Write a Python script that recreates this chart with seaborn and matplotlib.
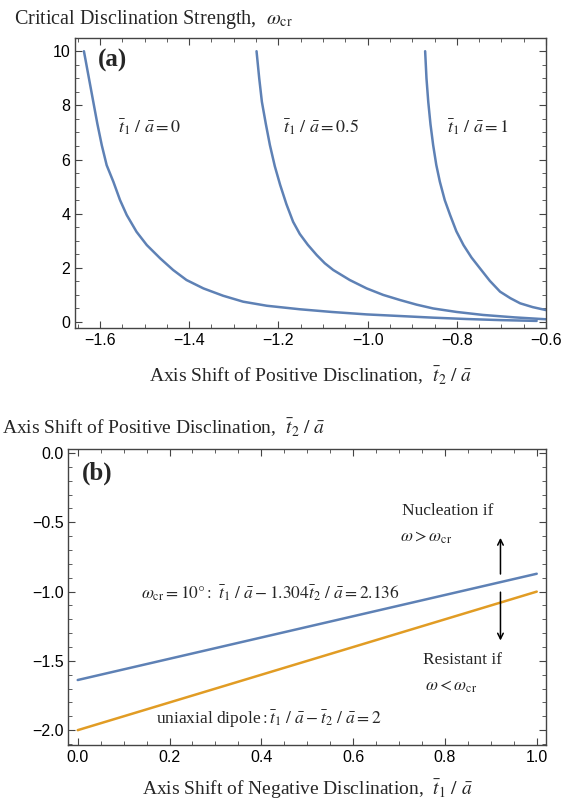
import numpy as np
import pandas as pd
import matplotlib
matplotlib.use("Agg")
import matplotlib.pyplot as plt
import seaborn as sns
from matplotlib.ticker import MultipleLocator

# ---------------- data ----------------
# panel (a): critical disclination strength vs. axis shift t2/a
t2_t1_0 = [-1.636, -1.626, -1.615, -1.606, -1.596, -1.585, -1.570, -1.555, -1.540,
           -1.518, -1.495, -1.465, -1.436, -1.406, -1.368, -1.324, -1.279, -1.226,
           -1.152, -1.080, -1.002, -0.927, -0.853, -0.778, -0.703, -0.621]
w_t1_0 = [10.0, 9.11, 8.13, 7.33, 6.53, 5.79, 5.18, 4.50, 3.95,
          3.33, 2.84, 2.35, 1.92, 1.55, 1.24, 0.97, 0.75, 0.60,
          0.47, 0.37, 0.28, 0.22, 0.16, 0.11, 0.07, 0.04]

t2_t1_05 = [-1.249, -1.243, -1.237, -1.228, -1.219, -1.208, -1.196, -1.182, -1.167,
            -1.152, -1.134, -1.114, -1.096, -1.077, -1.040, -1.002, -0.965, -0.927,
            -0.890, -0.853, -0.800, -0.741, -0.670, -0.600]
w_t1_05 = [10.0, 9.0, 8.13, 7.3, 6.53, 5.75, 5.06, 4.35, 3.70,
           3.25, 2.85, 2.47, 2.17, 1.92, 1.55, 1.24, 1.0, 0.81,
           0.64, 0.50, 0.37, 0.26, 0.17, 0.10]

t2_t1_1 = [-0.871, -0.868, -0.864, -0.859, -0.853, -0.846, -0.838, -0.827, -0.815,
           -0.801, -0.785, -0.767, -0.748, -0.726, -0.703, -0.680, -0.658, -0.630,
           -0.600]
w_t1_1 = [10.0, 9.0, 8.13, 7.3, 6.53, 5.8, 5.18, 4.5, 3.95,
          3.35, 2.84, 2.38, 1.98, 1.52, 1.12, 0.88, 0.69, 0.55,
          0.44]

# panel (b): boundary lines t2/a vs t1/a
t1_line = [0.0, 1.0]
t2_crit_line = [-1.638, -0.871]
t2_dipole_line = [-2.0, -1.0]

curve_labels = [r"$\bar{t}_1\ /\ \bar{a}=0$",
                r"$\bar{t}_1\ /\ \bar{a}=0.5$",
                r"$\bar{t}_1\ /\ \bar{a}=1$"]

# ---------------- style ----------------
sns.set_style("ticks")
plt.rcParams["font.family"] = ["Liberation Serif", "DejaVu Serif"]
plt.rcParams["mathtext.fontset"] = "stix"

BLUE = "#5E81B5"
ORANGE = "#E19C24"
FRAME = "#444444"

fig = plt.figure(figsize=(5.73, 8.0), dpi=100)
ax1 = fig.add_axes([0.1309, 0.5904, 0.822, 0.3625])
ax2 = fig.add_axes([0.1192, 0.06875, 0.8332, 0.3696])

# ---------------- panel (a) ----------------
dfa = pd.concat([
    pd.DataFrame({"t2": t2_t1_0, "w": w_t1_0, "c": "0"}),
    pd.DataFrame({"t2": t2_t1_05, "w": w_t1_05, "c": "0.5"}),
    pd.DataFrame({"t2": t2_t1_1, "w": w_t1_1, "c": "1"}),
])
sns.lineplot(data=dfa, x="t2", y="w", units="c", estimator=None, sort=False,
             color=BLUE, lw=1.8, ax=ax1, legend=False)
ax1.set_xlim(-1.656, -0.6)
ax1.set_ylim(-0.21, 10.5)
ax1.xaxis.set_major_locator(MultipleLocator(0.2))
ax1.xaxis.set_minor_locator(MultipleLocator(0.05))
ax1.yaxis.set_major_locator(MultipleLocator(2))
ax1.yaxis.set_minor_locator(MultipleLocator(0.5))
ax1.set_ylabel("")
ax1.set_xlabel(r"Axis Shift of Positive Disclination,  $\bar{t}_2\ /\ \bar{a}$",
               fontsize=14, labelpad=12)
ax1.text(-1.604, 9.67, "(a)", fontsize=18, fontweight="bold", ha="left", va="center")
ax1.text(-1.560, 7.2, curve_labels[0], fontsize=13, ha="left", va="center")
ax1.text(-1.190, 7.2, curve_labels[1], fontsize=13, ha="left", va="center")
ax1.text(-0.822, 7.2, curve_labels[2], fontsize=13, ha="left", va="center")
fig.text(14 / 573, 1 - 24 / 800, r"Critical Disclination Strength,  $\omega_{\mathrm{cr}}$",
         fontsize=14.5, ha="left", va="baseline")

# ---------------- panel (b) ----------------
dfb = pd.DataFrame({"t1": t1_line + t1_line,
                    "t2": t2_crit_line + t2_dipole_line,
                    "kind": ["crit"] * 2 + ["dipole"] * 2})
sns.lineplot(data=dfb, x="t1", y="t2", hue="kind", palette=[BLUE, ORANGE],
             estimator=None, sort=False, lw=1.8, ax=ax2, legend=False)
ax2.set_xlim(-0.0205, 1.0196)
ax2.set_ylim(-2.107, 0.027)
ax2.xaxis.set_major_locator(MultipleLocator(0.2))
ax2.xaxis.set_minor_locator(MultipleLocator(0.05))
ax2.yaxis.set_major_locator(MultipleLocator(0.5))
ax2.yaxis.set_minor_locator(MultipleLocator(0.1))
ax2.set_ylabel("")
ax2.set_xlabel(r"Axis Shift of Negative Disclination,  $\bar{t}_1\ /\ \bar{a}$",
               fontsize=14, labelpad=9)
fig.text(2 / 573, 1 - 428 / 800, r"Axis Shift of Positive Disclination,  $\bar{t}_2\ /\ \bar{a}$",
         fontsize=14, ha="left", va="center")
ax2.text(0.008, -0.144, "(b)", fontsize=18, fontweight="bold", ha="left", va="center")
ax2.text(0.419, -1.012,
         r"$\omega_{\mathrm{cr}}=10°:\ \bar{t}_1\ /\ \bar{a}-1.304\bar{t}_2\ /\ \bar{a}=2.136$",
         fontsize=12.5, ha="center", va="center")
ax2.text(0.416, -1.92,
         r"uniaxial dipole$:\bar{t}_1\ /\ \bar{a}-\bar{t}_2\ /\ \bar{a}=2$",
         fontsize=12.5, ha="center", va="center")
ax2.text(0.706, -0.418, "Nucleation if", fontsize=12.5, ha="left", va="center")
ax2.text(0.702, -0.608, r"$\omega>\omega_{\mathrm{cr}}$", fontsize=12.5, ha="left", va="center")
ax2.text(0.752, -1.494, "Resistant if", fontsize=12.5, ha="left", va="center")
ax2.text(0.757, -1.686, r"$\omega<\omega_{\mathrm{cr}}$", fontsize=12.5, ha="left", va="center")
ax2.annotate("", xy=(0.921, -0.592), xytext=(0.921, -0.893),
             arrowprops=dict(arrowstyle="->", color="black", lw=1.1))
ax2.annotate("", xy=(0.921, -1.373), xytext=(0.921, -0.984),
             arrowprops=dict(arrowstyle="->", color="black", lw=1.1))

for ax in (ax1, ax2):
    for sp in ax.spines.values():
        sp.set_visible(True)
        sp.set_color(FRAME)
        sp.set_linewidth(1.0)
    ax.tick_params(which="both", direction="in", top=True, right=True,
                   color=FRAME, labelcolor="black", labelsize=11.5,
                   labelfontfamily="Liberation Sans")
    ax.tick_params(which="major", length=5, width=0.8)
    ax.tick_params(which="minor", length=2.8, width=0.6)

fig.savefig("out.png", dpi=100)
